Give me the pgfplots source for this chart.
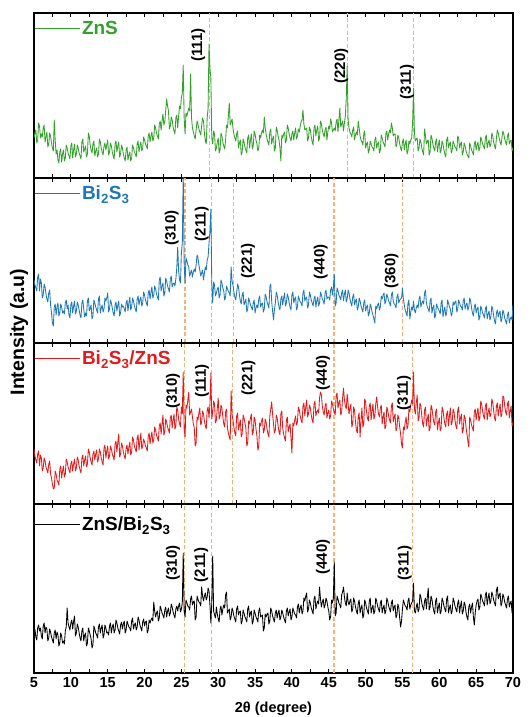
\documentclass[border=0pt]{standalone}
\usepackage{fontspec}
\setmainfont{Liberation Sans}
\usepackage{pgfplots}
\pgfplotsset{compat=1.18}
\usepackage{pgfplotstable}
\definecolor{zgreen}{RGB}{51,160,44}
\definecolor{bblue}{RGB}{31,119,180}
\definecolor{rred}{RGB}{227,26,28}
\definecolor{refor}{RGB}{248,176,118}

\pgfplotstableread{
x a b c d
5.000 40 63 55 40
5.125 45 58 48 44
5.250 48 55 44 36
5.375 35 52 41 33
5.500 38 66 50 45
5.625 55 69 53 48
5.750 52 52 38 42
5.875 40 64 49 45
6.000 44 60 46 37
6.125 41 45 33 34
6.250 50 48 36 47
6.375 53 59 46 50
6.500 36 56 43 40
6.625 41 49 37 46
6.750 46 44 34 44
6.875 31 41 31 32
7.000 34 50 40 35
7.125 45 53 43 44
7.250 42 38 30 41
7.375 35 30 26 36
7.500 30 20 20 33
7.625 27 17 15 30
7.750 58 36 16 40
7.875 38 39 33 43
8.000 24 28 30 34
8.125 28 36 24 41
8.250 18 40 22 38
8.375 15 27 19 27
8.500 26 30 35 30
8.625 29 39 38 40
8.750 16 36 26 37
8.875 24 30 33 30
9.000 28 32 38 32
9.125 17 29 27 29
9.250 20 40 30 42
9.375 33 43 45 46
9.500 30 34 42 65
9.625 25 38 37 50
9.750 22 28 34 46
9.875 19 25 31 43
10.000 32 38 40 50
10.125 35 41 43 53
10.250 20 30 33 44
10.375 28 37 40 52
10.500 34 42 45 57
10.625 21 29 33 37
10.750 24 32 36 40
10.875 33 41 47 49
11.000 30 38 44 46
11.125 25 33 38 40
11.250 22 28 34 35
11.375 19 25 31 32
11.500 36 40 46 42
11.625 39 43 49 45
11.750 26 34 38 32
11.875 29 26 44 38
12.000 32 30 48 40
12.125 21 27 37 27
12.250 24 42 40 30
12.375 45 45 55 45
12.500 42 32 52 42
12.625 33 35 46 38
12.750 28 38 42 34
12.875 25 24 39 25
13.000 34 27 50 28
13.125 37 43 53 47
13.250 22 40 44 44
13.375 27 36 50 40
13.500 30 33 54 38
13.625 21 30 42 35
13.750 24 44 45 46
13.875 39 47 55 49
14.000 36 30 52 40
14.125 30 35 46 45
14.250 26 38 42 48
14.375 23 31 39 35
14.500 32 34 56 38
14.625 35 45 59 48
14.750 28 42 46 45
14.875 33 45 53 40
15.000 38 50 58 41
15.125 23 31 45 38
15.250 26 34 48 47
15.375 35 43 58 50
15.500 32 40 55 40
15.625 26 35 50 46
15.750 22 30 47 49
15.875 19 27 44 40
16.000 34 38 60 43
16.125 37 41 63 53
16.250 26 32 52 50
16.375 32 38 62 45
16.500 36 42 70 42
16.625 21 27 47 39
16.750 24 30 50 48
16.875 33 39 61 51
17.000 30 36 58 44
17.125 24 37 52 49
17.250 20 34 48 52
17.375 17 31 45 40
17.500 28 40 56 43
17.625 31 43 59 52
17.750 18 32 50 49
17.875 23 40 57 46
18.000 26 46 62 45
18.125 17 33 49 42
18.250 20 36 52 52
18.375 33 45 67 55
18.500 30 42 64 44
18.625 26 37 58 48
18.750 24 34 55 50
18.875 21 31 52 43
19.000 34 44 66 46
19.125 37 47 69 56
19.250 26 38 54 53
19.375 32 43 63 48
19.500 36 46 71 45
19.625 27 37 55 42
19.750 30 40 58 51
19.875 41 51 65 54
20.000 38 48 62 47
20.125 34 43 58 51
20.250 32 40 56 52
20.375 29 37 53 40
20.500 42 50 68 43
20.625 45 53 71 53
20.750 36 44 60 50
20.875 42 51 67 53
21.000 46 56 72 55
21.125 37 45 61 52
21.250 40 48 64 71
21.375 53 57 77 62
21.500 50 54 74 56
21.625 45 49 69 60
21.750 42 46 66 62
21.875 39 43 63 52
22.000 54 63 78 55
22.125 57 66 81 67
22.250 48 52 70 64
22.375 57 57 80 60
22.500 64 60 89 58
22.625 53 47 69 55
22.750 56 50 72 63
22.875 68 65 85 66
23.000 79 62 82 56
23.125 72 57 77 62
23.250 67 54 74 65
23.375 49 51 71 57
23.500 52 64 86 60
23.625 61 67 89 69
23.750 58 56 76 66
23.875 51 59 84 61
24.000 47 60 90 58
24.125 44 57 75 55
24.250 60 64 78 64
24.375 63 75 97 67
24.500 50 96 94 62
24.625 62 72 85 67
24.750 72 63 80 70
24.875 69 60 77 61
25.000 80 90 97 64
25.125 85 100 90 70
25.250 113 170 132 120
25.375 60 80 75 62
25.500 44 60 67 56
25.625 65 85 99 73
25.750 62 82 96 70
25.875 66 78 104 67
26.000 70 76 112 66
26.125 67 67 89 63
26.250 104 70 92 74
26.375 60 73 95 77
26.500 50 66 87 68
26.625 46 71 80 71
26.750 42 74 76 72
26.875 39 71 58 53
27.000 48 78 61 56
27.125 57 88 87 77
27.250 54 85 84 74
27.375 49 78 91 71
27.500 46 73 96 70
27.625 43 67 79 67
27.750 52 70 82 86
27.875 60 73 93 77
28.000 57 63 90 72
28.125 45 70 83 77
28.250 37 76 78 80
28.375 34 73 75 73
28.500 60 83 94 76
28.625 70 86 97 85
28.750 134 100 86 82
28.875 110 112 100 68
29.000 100 134 131 50
29.125 40 60 85 70
29.250 34 40 91 117
29.375 47 61 103 62
29.500 44 58 100 58
29.625 27 47 81 55
29.750 30 50 84 66
29.875 36 54 96 59
30.000 40 56 106 54
30.125 25 45 85 51
30.250 28 48 88 64
30.375 45 63 99 67
30.500 42 60 96 58
30.625 36 55 87 64
30.750 32 52 80 68
30.875 29 43 77 65
31.000 38 46 92 78
31.125 53 57 95 81
31.250 50 54 76 60
31.375 62 52 71 62
31.500 75 50 67 64
31.625 53 47 64 53
31.750 56 76 113 56
31.875 59 62 90 65
32.000 50 58 84 62
32.125 44 51 77 57
32.250 40 46 71 54
32.375 37 43 68 51
32.500 44 50 88 64
32.625 47 59 91 67
32.750 30 56 74 58
32.875 35 48 79 61
33.000 38 42 84 62
33.125 23 39 67 49
33.250 26 48 70 52
33.375 39 51 89 63
33.500 36 38 86 60
33.625 31 41 81 56
33.750 28 44 76 54
33.875 25 31 58 51
34.000 40 34 61 64
34.125 43 45 83 67
34.250 30 42 80 56
34.375 38 38 86 60
34.500 44 36 90 62
34.625 29 33 69 49
34.750 32 40 72 52
34.875 47 43 87 63
35.000 44 30 84 60
35.125 38 35 75 56
35.250 34 38 68 54
35.375 27 35 54 51
35.500 30 44 57 62
35.625 43 47 81 65
35.750 40 36 78 56
35.875 45 39 83 57
36.000 48 40 86 58
36.125 45 31 71 42
36.250 61 34 74 45
36.375 50 49 85 59
36.500 44 46 82 56
36.625 39 41 75 59
36.750 36 38 70 60
36.875 33 35 67 49
37.000 46 56 88 52
37.125 49 59 95 65
37.250 34 42 102 62
37.375 39 32 90 57
37.500 42 23 80 54
37.625 27 33 71 51
37.750 30 40 74 60
37.875 51 51 89 63
38.000 48 48 86 55
38.125 42 41 78 60
38.250 38 36 72 63
38.375 30 33 69 53
38.500 17 44 90 56
38.625 43 47 93 63
38.750 40 38 76 60
38.875 44 45 70 56
39.000 46 50 66 53
39.125 35 37 63 50
39.250 38 40 84 62
39.375 53 49 87 65
39.500 50 46 72 57
39.625 44 40 77 61
39.750 40 36 80 64
39.875 37 33 66 53
40.000 44 48 51 56
40.125 47 51 81 65
40.250 38 40 78 62
40.375 45 44 84 59
40.500 50 46 88 58
40.625 39 33 79 55
40.750 42 36 82 66
40.875 49 47 97 69
41.000 46 44 94 60
41.125 52 41 88 65
41.250 56 40 84 68
41.375 58 37 81 59
41.500 68 50 98 62
41.625 54 53 101 75
41.750 48 42 88 72
41.875 49 45 97 77
42.000 50 46 104 80
42.125 37 35 87 61
42.250 40 38 90 64
42.375 51 51 99 73
42.500 48 48 96 70
42.625 41 43 89 65
42.750 36 40 84 62
42.875 33 37 81 59
43.000 50 44 100 74
43.125 53 47 103 77
43.250 42 36 88 64
43.375 48 42 92 69
43.500 52 46 94 72
43.625 37 37 91 69
43.750 40 40 106 86
43.875 57 51 112 74
44.000 54 48 109 66
44.125 48 44 98 71
44.250 44 42 92 74
44.375 41 39 89 65
44.500 48 50 98 68
44.625 51 53 101 75
44.750 38 44 86 72
44.875 46 46 91 66
45.000 52 46 94 62
45.125 49 43 85 53
45.250 59 53 88 56
45.375 55 56 103 73
45.500 46 48 100 70
45.625 48 55 95 75
45.750 50 69 92 111
45.875 47 37 89 57
46.000 56 40 108 60
46.125 59 55 111 77
46.250 46 52 96 74
46.375 58 48 101 70
46.500 70 46 104 68
46.625 51 43 89 65
46.750 54 50 92 78
46.875 57 53 106 81
47.000 47 42 116 86
47.125 55 49 104 76
47.250 62 53 98 70
47.375 80 41 95 67
47.500 112 44 110 80
47.625 58 53 100 71
47.750 50 50 90 68
47.875 46 44 96 72
48.000 44 40 100 74
48.125 41 37 77 61
48.250 48 46 80 64
48.375 51 49 97 75
48.500 38 38 94 72
48.625 43 42 82 66
48.750 46 44 74 62
48.875 43 33 71 59
49.000 57 36 88 70
49.125 50 45 91 73
49.250 42 42 67 60
49.375 38 37 84 65
49.500 36 34 96 68
49.625 33 31 77 55
49.750 44 40 80 58
49.875 47 43 105 73
50.000 30 32 102 70
50.125 34 36 92 65
50.250 36 38 86 62
50.375 25 27 83 59
50.500 28 30 98 72
50.625 37 39 101 75
50.750 34 36 84 60
50.875 31 31 93 65
51.000 30 28 100 68
51.125 27 24 85 59
51.250 38 20 88 62
51.375 41 37 100 75
51.500 30 34 107 72
51.625 34 38 97 67
51.750 36 40 90 64
51.875 25 33 87 61
52.000 28 36 96 70
52.125 43 47 99 73
52.250 40 44 80 60
52.375 36 48 87 65
52.500 34 50 92 68
52.625 31 39 75 59
52.750 44 42 78 62
52.875 47 49 97 75
53.000 38 46 94 72
53.125 44 42 88 67
53.250 48 40 84 64
53.375 45 37 81 61
53.500 55 48 98 70
53.625 50 51 101 73
53.750 42 42 82 62
53.875 44 39 87 66
54.000 44 38 90 68
54.125 31 35 73 55
54.250 34 46 76 58
54.375 43 49 89 69
54.500 40 40 86 66
54.625 34 43 77 55
54.750 30 44 70 46
54.875 27 45 60 52
55.000 36 55 56 64
55.125 39 44 77 73
55.250 28 38 74 70
55.375 34 33 82 67
55.500 38 30 87 66
55.625 24 27 75 63
55.750 27 40 78 72
55.875 37 43 95 75
56.000 34 24 92 64
56.125 38 31 99 68
56.250 40 36 104 70
56.375 55 33 100 72
56.500 90 42 132 90
56.625 45 33 95 62
56.750 37 30 90 60
56.875 39 35 101 66
57.000 40 38 109 70
57.125 27 35 83 61
57.250 30 44 86 64
57.375 39 47 101 79
57.500 36 36 98 76
57.625 30 40 88 70
57.750 26 42 80 66
57.875 23 39 77 63
58.000 49 50 94 72
58.125 42 53 97 75
58.250 34 40 78 64
58.375 37 36 85 76
58.500 38 34 90 85
58.625 23 31 73 63
58.750 26 42 76 66
58.875 43 45 99 77
59.000 40 30 96 74
59.125 34 35 88 67
59.250 30 38 82 62
59.375 27 25 79 59
59.500 36 28 92 72
59.625 39 39 95 75
59.750 26 36 74 60
59.875 33 34 81 66
60.000 38 32 86 70
60.125 25 29 73 59
60.250 28 40 76 62
60.375 37 43 97 75
60.500 34 26 94 72
60.625 28 32 86 67
60.750 24 36 80 64
60.875 21 27 77 61
61.000 38 30 90 74
61.125 41 43 93 77
61.250 30 40 78 60
61.375 34 36 88 65
61.500 36 34 96 68
61.625 25 27 79 59
61.750 28 30 82 62
61.875 37 41 95 75
62.000 34 38 92 72
62.125 31 41 84 67
62.250 30 42 78 64
62.375 27 31 75 61
62.500 42 34 94 70
62.625 40 43 97 73
62.750 30 40 80 60
62.875 34 37 86 67
63.000 36 36 90 72
63.125 23 33 71 59
63.250 26 42 74 62
63.375 35 45 89 71
63.500 32 34 86 68
63.625 27 38 77 61
63.750 24 40 70 56
63.875 22 33 63 53
64.000 20 36 57 66
64.125 35 45 87 69
64.250 32 42 84 60
64.375 28 35 79 66
64.500 26 30 76 70
64.625 23 27 73 56
64.750 34 36 92 48
64.875 37 39 95 60
65.000 28 30 84 68
65.125 33 34 91 72
65.250 36 36 96 74
65.375 27 23 83 63
65.500 30 26 86 66
65.625 41 37 103 79
65.750 38 34 100 76
65.875 34 30 93 72
66.000 32 28 88 70
66.125 29 25 85 67
66.250 40 34 98 78
66.375 43 37 101 81
66.500 30 24 84 68
66.625 35 29 91 75
66.750 38 32 96 80
66.875 31 23 87 69
67.000 34 26 90 72
67.125 45 37 105 81
67.250 42 34 102 78
67.375 36 27 93 73
67.500 32 22 86 70
67.625 29 19 83 67
67.750 40 30 98 83
67.875 48 33 101 86
68.000 45 26 88 74
68.125 40 30 95 78
68.250 36 32 100 80
68.375 33 21 87 67
68.500 40 24 90 70
68.625 47 33 108 79
68.750 44 30 107 76
68.875 39 25 98 71
69.000 36 22 92 68
69.125 33 19 89 65
69.250 42 28 100 74
69.375 45 31 103 77
69.500 34 20 86 66
69.625 37 24 93 70
69.750 38 26 98 72
69.875 27 23 78 60
70.000 30 38 81 63
}\xrd

\pgfplotsset{
  xrdpanel/.style={
    scale only axis, width=479pt,
    xmin=5, xmax=70, ymin=0,
    xtick={5,10,...,70}, minor x tick num=1,
    ytick=\empty,
    tick align=inside,
    major tick length=4pt, minor tick length=4pt,
    every tick/.style={black, line width=0.9pt},
    axis line style={line width=1.6pt},
    xticklabel style={font=\bfseries\fontsize{14.5}{14.5}\selectfont, yshift=-1pt},
    /pgf/number format/assume math mode=true,
    legend style={at={(0,1)}, anchor=north west, draw=none, fill=none,
      inner xsep=0pt, inner ysep=2pt, yshift=-4pt,
      font=\bfseries\fontsize{19}{19}\selectfont},
    legend cell align=left,
    legend image code/.code={\draw[#1, line width=0.8pt] (0pt,0pt) -- (45pt,0pt);},
  },
  refline/.style={color=refor, line width=1.3pt, dash pattern=on 4pt off 2.5pt, forget plot},
  curve/.style={line width=0.85pt, line join=round},
}
\tikzset{peaklbl/.style={rotate=90, font=\bfseries\fontsize{15}{15}\selectfont, text=black, inner sep=0pt}}

\begin{document}
\begin{tikzpicture}
\path[use as bounding box] (0pt,0pt) rectangle (532pt,717pt);

% Panel 1: ZnS
\begin{axis}[xrdpanel, at={(34pt,539pt)}, anchor=south west, height=165pt, ymax=165, xticklabels=\empty]
\addplot[refline] coordinates {(28.8,0) (28.8,165)};
\addplot[refline] coordinates {(47.5,0) (47.5,165)};
\addplot[refline] coordinates {(56.5,0) (56.5,165)};
\addplot[zgreen, curve] table[x=x, y=a] {\xrd};
\addlegendentry{\textcolor{zgreen}{ZnS}}
\node[peaklbl] at (axis cs:27.3,133) {(111)};
\node[peaklbl] at (axis cs:46.7,112) {(220)};
\node[peaklbl] at (axis cs:55.6,96) {(311)};
\end{axis}

% Panel 2: Bi2S3
\begin{axis}[xrdpanel, at={(34pt,374pt)}, anchor=south west, height=165pt, ymax=165, xticklabels=\empty]
\addplot[refline] coordinates {(25.5,0) (25.5,165)};
\addplot[refline] coordinates {(29.1,0) (29.1,165)};
\addplot[refline] coordinates {(32.1,0) (32.1,165)};
\addplot[refline] coordinates {(45.7,0) (45.7,165)};
\addplot[refline] coordinates {(55.0,0) (55.0,165)};
\addplot[bblue, curve] table[x=x, y=b] {\xrd};
\addlegendentry{\textcolor{bblue}{Bi\textsubscript{2}S\textsubscript{3}}}
\node[peaklbl] at (axis cs:23.7,115) {(310)};
\node[peaklbl] at (axis cs:27.75,119) {(211)};
\node[peaklbl] at (axis cs:34.05,82) {(221)};
\node[peaklbl] at (axis cs:43.9,81) {(440)};
\node[peaklbl] at (axis cs:53.5,72) {(360)};
\end{axis}

% Panel 3: Bi2S3/ZnS
\begin{axis}[xrdpanel, at={(34pt,213pt)}, anchor=south west, height=161pt, ymax=161, xticklabels=\empty]
\addplot[refline] coordinates {(25.45,0) (25.45,161)};
\addplot[refline] coordinates {(29.05,0) (29.05,161)};
\addplot[refline] coordinates {(31.9,0) (31.9,161)};
\addplot[refline] coordinates {(45.7,0) (45.7,161)};
\addplot[refline] coordinates {(56.4,0) (56.4,161)};
\addplot[rred, curve] table[x=x, y=c] {\xrd};
\addlegendentry{\textcolor{rred}{Bi\textsubscript{2}S\textsubscript{3}/ZnS}}
\node[peaklbl] at (axis cs:23.86,113) {(310)};
\node[peaklbl] at (axis cs:27.8,123) {(111)};
\node[peaklbl] at (axis cs:34.1,126) {(221)};
\node[peaklbl] at (axis cs:44.2,131) {(440)};
\node[peaklbl] at (axis cs:55.2,111) {(311)};
\end{axis}

% Panel 4: ZnS/Bi2S3
\begin{axis}[xrdpanel, at={(34pt,44pt)}, anchor=south west, height=169pt, ymax=169,
  xlabel={2θ (degree)},
  xlabel style={font=\bfseries\fontsize{14.5}{14.5}\selectfont, at={(axis description cs:0.5,0)}, anchor=center, yshift=-36pt},
  legend style={yshift=-5pt}]
\addplot[refline] coordinates {(25.45,0) (25.45,169)};
\addplot[refline] coordinates {(29.05,0) (29.05,169)};
\addplot[refline] coordinates {(45.7,0) (45.7,169)};
\addplot[refline] coordinates {(56.4,0) (56.4,169)};
\addplot[black, curve] table[x=x, y=d] {\xrd};
\addlegendentry{\textcolor{black}{ZnS/Bi\textsubscript{2}S\textsubscript{3}}}
\node[peaklbl] at (axis cs:23.86,110) {(310)};
\node[peaklbl] at (axis cs:27.7,108) {(211)};
\node[peaklbl] at (axis cs:44.2,116) {(440)};
\node[peaklbl] at (axis cs:55.3,110) {(311)};
\end{axis}

\node[rotate=90, font=\bfseries\fontsize{19.5}{19.5}\selectfont] at (19pt,385pt) {Intensity (a.u)};
\end{tikzpicture}
\end{document}
